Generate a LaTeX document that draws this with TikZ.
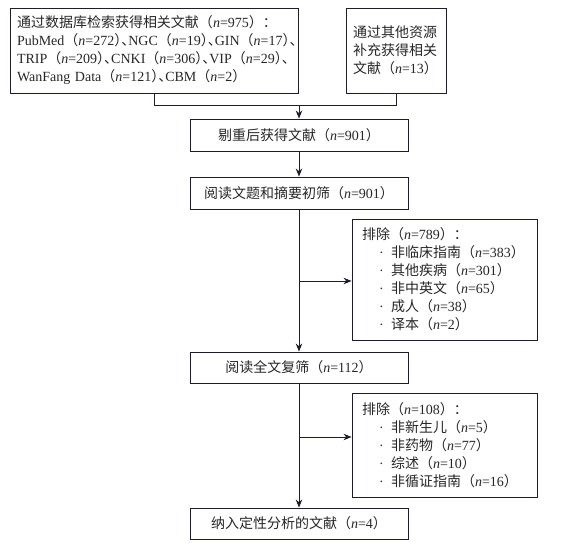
\documentclass[tikz,border=0pt]{standalone}
\usepackage{fontspec}
\setmainfont{Liberation Serif}
\newfontfamily\cjk{Noto Sans CJK SC}
\newfontfamily\cjkh[RawFeature=+halt]{Noto Sans CJK SC}
\usetikzlibrary{arrows.meta}
\newcommand\C[1]{{\cjk #1}}
\newcommand\N[1]{\C{（}\textit{n}=#1\C{）}}
\newcommand\M[1]{\C{（}\textit{n}=#1{\cjkh ）、}}
\newcommand\bl{\hspace*{17pt}\makebox[12pt][l]{·}}
\definecolor{ln}{HTML}{1C1C2C}
\begin{document}
\begin{tikzpicture}[x=1pt,y=-1pt,
  every node/.style={font=\fontsize{14}{18}\selectfont,text=black!85},
  box/.style={draw=ln,line width=0.9pt,rectangle,inner sep=0pt,minimum width=#1},
  lbox/.style={draw=ln,line width=0.9pt,rectangle,inner xsep=7pt,inner ysep=0pt,align=left,text width=#1},
  conn/.style={draw=ln,line width=0.9pt},
  arr/.style={conn,-{Stealth[length=8pt,width=6.5pt]}}]
\useasboundingbox (0,0) rectangle (568,548);
\node[lbox=274pt,minimum height=85pt] (b1) at (154,50.5) {\C{通过数据库检索获得相关文献}\N{975}\C{：}\\
PubMed\M{272}NGC\M{19}GIN\M{17}\\
TRIP\M{209}CNKI\M{306}VIP\M{29}\\
WanFang Data\M{121}CBM\N{2}};
\node[lbox=86pt,minimum height=85pt] (b2) at (396,50.5) {\C{通过其他资源}\\\C{补充获得相关}\\\C{文献}\N{13}};
\node[box=218pt,minimum height=32pt] (b3) at (299,135) {\C{剔重后获得文献}\N{901}};
\node[box=218pt,minimum height=32pt] (b4) at (299,193) {\C{阅读文题和摘要初筛}\N{901}};
\node[lbox=165pt,inner xsep=10pt,minimum height=121pt] (e1) at (444.5,279.5) {\C{排除}\N{789}\C{：}\\
\bl\C{非临床指南}\N{383}\\
\bl\C{其他疾病}\N{301}\\
\bl\C{非中英文}\N{65}\\
\bl\C{成人}\N{38}\\
\bl\C{译本}\N{2}};
\node[box=218pt,minimum height=31pt] (b5) at (299,367.5) {\C{阅读全文复筛}\N{112}};
\node[lbox=165pt,inner xsep=10pt,minimum height=104pt] (e2) at (444.5,445) {\C{排除}\N{108}\C{：}\\
\bl\C{非新生儿}\N{5}\\
\bl\C{非药物}\N{77}\\
\bl\C{综述}\N{10}\\
\bl\C{非循证指南}\N{16}};
\node[box=218pt,minimum height=31pt] (b6) at (299,523.5) {\C{纳入定性分析的文献}\N{4}};
\coordinate (j) at (299,105);
\coordinate (k1) at (299,281);
\coordinate (k2) at (299,437);
\draw[conn] (b1.south) -- (b1.south |- j) -- (b2.south |- j) -- (b2.south);
\draw[arr] (j) -- (b3.north);
\draw[arr] (b3.south) -- (b4.north);
\draw[arr] (b4.south) -- (b5.north);
\draw[arr] (k1) -- (k1 -| e1.west);
\draw[arr] (b5.south) -- (b6.north);
\draw[arr] (k2) -- (k2 -| e2.west);
\end{tikzpicture}
\end{document}
